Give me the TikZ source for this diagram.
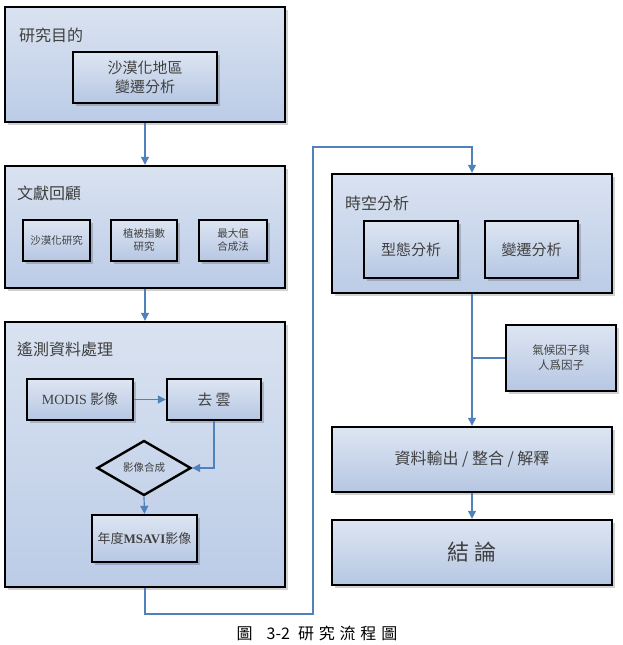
\documentclass[tikz,border=0pt]{standalone}
\usepackage{fontspec}
\setmainfont{Noto Sans CJK TC}
\newfontfamily\lat{Liberation Serif}
\newfontfamily\capfont[LetterSpace=30]{Noto Sans CJK TC}
\usetikzlibrary{shapes.geometric,shadows,arrows.meta}
\definecolor{tx}{HTML}{404040}
\definecolor{ln}{HTML}{4F81BD}
\definecolor{ftop}{HTML}{DDE5F2}
\definecolor{fbot}{HTML}{B6C7E3}
\definecolor{otop}{HTML}{D9E2F0}
\definecolor{obot}{HTML}{BCCCE7}
\tikzset{
  shd/.style={drop shadow={shadow xshift=3pt,shadow yshift=-3pt,fill=black,opacity=0.18}},
  outerbox/.style={draw=black,line width=2.4pt,top color=otop,bottom color=obot,shd,inner sep=0pt},
  innerbox/.style={draw=black,line width=2.4pt,top color=ftop,bottom color=fbot,shd,inner sep=2pt,text=tx,align=center},
  ttl/.style={anchor=west,text=tx,font=\fontsize{16}{19}\selectfont,inner sep=0pt},
  conn/.style={draw=ln,line width=1.2pt},
  arr/.style={conn,-{Triangle[length=8pt,width=8pt]}},
}
\begin{document}
\begin{tikzpicture}[x=1pt,y=-1pt]
\useasboundingbox (0,0) rectangle (622,645);
% box 1
\node[outerbox,minimum width=280pt,minimum height=115pt] (b1) at (145,64.5) {};
\node[ttl] (t1) at (19,35) {研究目的};
\node[innerbox,minimum width=144pt,minimum height=51pt,font=\fontsize{15}{19}\selectfont] (i1) at (145,77.5) {沙漠化地區\\變遷分析};
% box 2
\node[outerbox,minimum width=280pt,minimum height=122pt] (b2) at (145,227) {};
\node[ttl] (t2) at (17,193) {文獻回顧};
\node[innerbox,minimum width=67pt,minimum height=41pt,font=\fontsize{10.5}{13}\selectfont] (l1) at (56.5,240.5) {沙漠化研究};
\node[innerbox,minimum width=66pt,minimum height=41pt,font=\fontsize{10.5}{13}\selectfont] (l2) at (144,240.5) {植被指數\\研究};
\node[innerbox,minimum width=68pt,minimum height=41pt,font=\fontsize{10.5}{13}\selectfont] (l3) at (233,240.5) {最大值\\合成法};
% box 3
\node[outerbox,minimum width=280pt,minimum height=265pt] (b3) at (145,454.5) {};
\node[ttl] (t3) at (17,349) {遙測資料處理};
\node[innerbox,minimum width=106pt,minimum height=41pt,font=\fontsize{14}{17}\selectfont] (modis) at (80,399.5) {{\lat MODIS} 影像};
\node[innerbox,minimum width=94pt,minimum height=41pt,font=\fontsize{15}{17}\selectfont] (qy) at (214,399.5) {去 雲};
\node[draw=black,line width=2.4pt,diamond,minimum width=94pt,minimum height=55pt,inner sep=0pt,aspect=1.7,text=tx,font=\fontsize{10.5}{13}\selectfont] (dm) at (144,468) {影像合成};
\node[innerbox,minimum width=105pt,minimum height=47pt,font=\fontsize{13}{16}\selectfont] (msavi) at (144.5,538.5) {年度{\lat\bfseries MSAVI}影像};
% box 4
\node[outerbox,minimum width=280pt,minimum height=119pt] (b4) at (472,233.5) {};
\node[ttl] (t4) at (345,203) {時空分析};
\node[innerbox,minimum width=94pt,minimum height=57pt,font=\fontsize{15}{18}\selectfont] (xt) at (411,249.5) {型態分析};
\node[innerbox,minimum width=93pt,minimum height=57pt,font=\fontsize{15}{18}\selectfont] (bq) at (531.5,249.5) {變遷分析};
% factor box
\node[innerbox,minimum width=110pt,minimum height=66pt,font=\fontsize{11.5}{15}\selectfont] (kh) at (561,358) {氣候因子與\\人爲因子};
% box 5, 6
\node[innerbox,minimum width=280pt,minimum height=65pt,font=\fontsize{16}{19}\selectfont] (b5) at (472,459.5) {資料輸出 / 整合 / 解釋};
\node[innerbox,minimum width=280pt,minimum height=65pt,font=\fontsize{22}{26}\selectfont] (b6) at (472,552.5) {結 論};
% caption
\node[font=\fontsize{16}{19}\selectfont,text=black,inner sep=0pt] (cap) at (317,633) {圖\hspace{14pt}3-2\hspace{8pt}{\capfont 研究流程圖}};
% connectors
\coordinate (c1) at (313,614);
\coordinate (c2) at (313,147);
\draw[arr] (b1.south) -- (b2.north);
\draw[arr] (b2.south) -- (b3.north);
\draw[arr] (modis.east) -- (qy.west);
\draw[arr] (qy.south) |- (dm.east);
\draw[arr] (dm.south) -- (msavi.north);
\draw[arr] (b3.south) |- (c1) -- (c2) -| (b4.north);
\draw[arr] (b4.south) -- (b5.north);
\draw[conn] (b4.south |- kh.west) -- (kh.west);
\draw[arr] (b5.south) -- (b6.north);
\end{tikzpicture}
\end{document}
